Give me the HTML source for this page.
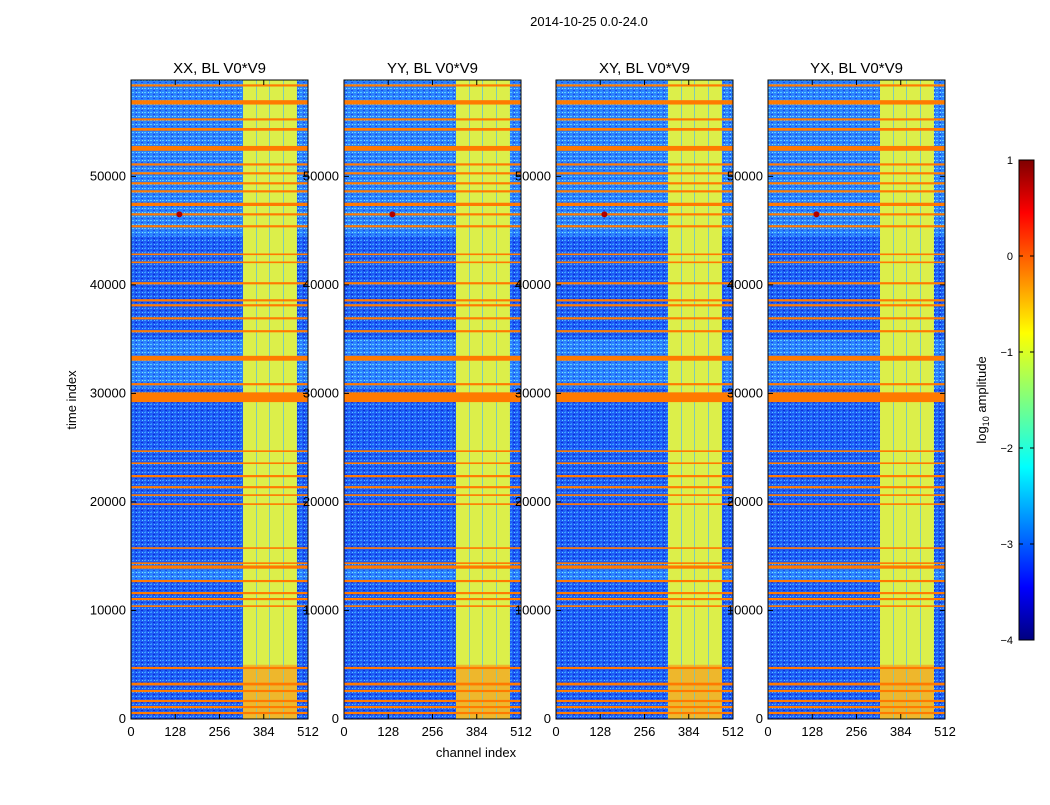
<!DOCTYPE html>
<html><head><meta charset="utf-8">
<style>
body{margin:0;background:#fff;}
svg text{font-family:"Liberation Sans",sans-serif;}
</style></head>
<body>
<svg id="fig" width="1050" height="800" xmlns="http://www.w3.org/2000/svg">
<defs>
<linearGradient id="jet" x1="0" y1="1" x2="0" y2="0">
<stop offset="0" stop-color="#00007f"/><stop offset="0.11" stop-color="#0000ff"/>
<stop offset="0.36" stop-color="#00ffff"/><stop offset="0.5" stop-color="#7fff7f"/>
<stop offset="0.64" stop-color="#ffff00"/><stop offset="0.89" stop-color="#ff0000"/>
<stop offset="1" stop-color="#7f0000"/></linearGradient>
<pattern id="noise" width="6" height="4" patternUnits="userSpaceOnUse">
<rect width="6" height="4" fill="#1e5cf5"/><rect x="0" y="0" width="2" height="1" fill="#3aa0ff"/>
<rect x="3" y="2" width="2" height="1" fill="#0a2cd8"/><rect x="4" y="0" width="1" height="1" fill="#5cc8ff"/>
<rect x="1" y="3" width="1" height="1" fill="#2d86ff"/></pattern>
<pattern id="noiseL" width="6" height="4" patternUnits="userSpaceOnUse">
<rect width="6" height="4" fill="#2f8cff"/><rect x="0" y="0" width="2" height="1" fill="#60d8ff"/>
<rect x="3" y="2" width="2" height="1" fill="#1a50f0"/><rect x="4" y="0" width="1" height="1" fill="#8ff0e8"/></pattern>
</defs>
<text x="589" y="26" font-size="13" text-anchor="middle">2014-10-25 0.0-24.0</text>
<text x="0" y="0" font-size="13" text-anchor="middle" transform="translate(76,400) rotate(-90)">time index</text>
<text x="476" y="757" font-size="13" text-anchor="middle">channel index</text>
<g id="panels"></g>
<g>
<rect x="1019" y="160" width="15" height="480" fill="url(#jet)" stroke="#000" stroke-width="1"/>
<g id="cbticks"></g>
<text x="0" y="0" font-size="13" text-anchor="middle" transform="translate(986,400) rotate(-90)">log<tspan font-size="9" dy="3">10</tspan><tspan dy="-3"> amplitude</tspan></text>
</g>
</svg>
<script>
const NS="http://www.w3.org/2000/svg";
const panelTitles=["XX, BL V0*V9","YY, BL V0*V9","XY, BL V0*V9","YX, BL V0*V9"];
const xTicks=[0,128,256,384,512];
const yTicks=[0,10000,20000,30000,40000,50000];
const cbTicks=[1,0,-1,-2,-3,-4];
// orange RFI rows: [time, thickness in time units]
const rfiTimes=[58380,56820,55250,54330,52580,51100,50280,49360,48620,47420,46500,45400,42820,42080,40150,38580,38120,36920,35730,33240,30850,29650,24680,23570,22380,21360,20630,19800,15750,14360,14000,12710,11600,11050,10400,4700,3220,2580,1660,1100,550];
const rfiWidths=[200,400,200,250,450,200,200,200,200,300,200,200,150,150,200,200,200,200,200,450,200,900,150,150,200,200,150,150,150,150,300,200,200,200,150,200,250,200,200,200,200];
// lighter bands [tStart, tEnd]
const lightBands=[[45500,58880],[44500,45300],[30500,35000],[12800,13800]];
// RFI channel ranges (yellow)
const chanStart=[324,364,402,442];
const chanEnd=[362,400,440,480];
const panelX=[131,344,556,768];
const W=177,TOP=80,BOT=719,CMAX=512,TMAX=58880;
function mk(tag,attrs,parent){const e=document.createElementNS(NS,tag);for(const k in attrs)e.setAttribute(k,attrs[k]);parent.appendChild(e);return e;}
const root=document.getElementById('panels');
panelTitles.forEach((t,pi)=>{
  const x0=panelX[pi];
  const xs=c=>x0+c/CMAX*W, ys=v=>BOT-v/TMAX*(BOT-TOP);
  const g=mk('g',{},root);
  
  
  const bg=mk('rect',{x:x0,y:TOP,width:W,height:BOT-TOP,fill:'url(#noise)'},g);
  
  
  lightBands.forEach(b=>{const r=mk('rect',{x:x0,y:ys(b[1]),width:W,height:ys(b[0])-ys(b[1]),fill:'url(#noiseL)',opacity:0.8},g);
    
    });
  const gf=mk('rect',{x:xs(chanStart[0]),y:TOP,width:xs(chanEnd[3])-xs(chanStart[0]),height:BOT-TOP,fill:'#55b8e8'},g);
  
  
  chanStart.forEach((c,i)=>{const r=mk('rect',{x:xs(c),y:TOP,width:xs(chanEnd[i])-xs(c),height:BOT-TOP,fill:'#dcef4a'},g);
    
    
    const r2=mk('rect',{x:xs(c),y:ys(5000),width:xs(chanEnd[i])-xs(c),height:BOT-ys(5000),fill:'#f5a020',opacity:0.7},g);
    
    });
  rfiTimes.forEach((tv,i)=>{const h=Math.max(1.5,(rfiWidths[i])/TMAX*(BOT-TOP));
    const r=mk('rect',{x:x0,y:ys(tv)-h/2,width:W,height:h,fill:'#ff7a00'},g);
    
    });
  const src=mk('circle',{cx:xs(140),cy:ys(46500),r:3,fill:'#b00000'},g);
  
  
  const fr=mk('rect',{x:x0,y:TOP,width:W,height:BOT-TOP,fill:'none',stroke:'#000','stroke-width':1},g);
  
  
  const tt=mk('text',{x:x0+W/2,y:TOP-7,'font-size':15,'text-anchor':'middle'},g);tt.textContent=t;
  
  
  xTicks.forEach(v=>{mk('line',{x1:xs(v),x2:xs(v),y1:BOT,y2:BOT-5,stroke:'#000'},g);mk('line',{x1:xs(v),x2:xs(v),y1:TOP,y2:TOP+5,stroke:'#000'},g);
    const l=mk('text',{x:xs(v),y:BOT+17,'font-size':13,'text-anchor':'middle'},g);l.textContent=v;
    
    });
  yTicks.forEach(v=>{mk('line',{x1:x0,x2:x0+5,y1:ys(v),y2:ys(v),stroke:'#000'},g);mk('line',{x1:x0+W,x2:x0+W-5,y1:ys(v),y2:ys(v),stroke:'#000'},g);
    const l=mk('text',{x:x0-5,y:ys(v)+4,'font-size':13,'text-anchor':'end'},g);l.textContent=v;
    
    });
});
const cb=document.getElementById('cbticks');
cbTicks.forEach(v=>{const y=160+(1-v)/5*480;
  mk('line',{x1:1019,x2:1023,y1:y,y2:y,stroke:'#000'},cb);mk('line',{x1:1034,x2:1030,y1:y,y2:y,stroke:'#000'},cb);
  const l=mk('text',{x:1013,y:y+4,'font-size':11,'text-anchor':'end'},cb);l.textContent=v<0?'\u2212'+(-v):v;
  
  });
</script>
</body></html>
